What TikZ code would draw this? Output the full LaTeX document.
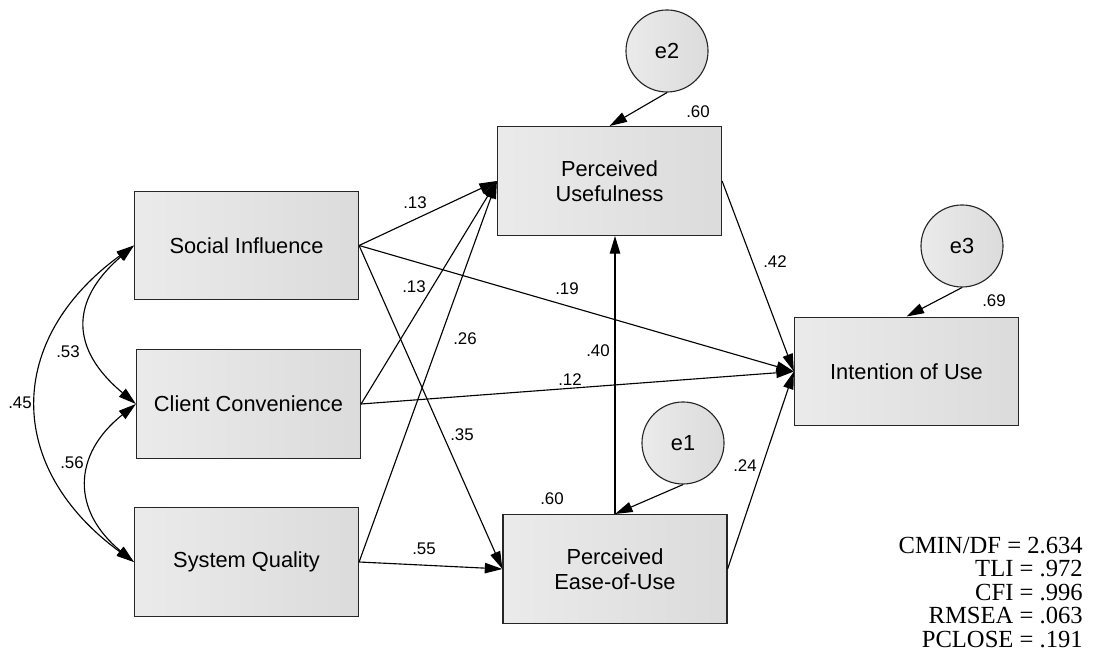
\documentclass[tikz,border=0pt]{standalone}
\usepackage{fontspec}
\setmainfont{Liberation Sans}
\newfontfamily\statfont{Liberation Serif}
\usetikzlibrary{arrows.meta}

\begin{document}
\begin{tikzpicture}[x=0.025cm,y=0.025cm,
  box/.style={draw=black!85, line width=0.8pt, left color=black!8, right color=black!14,
    minimum width=5.6cm, minimum height=2.72cm, align=center,
    font=\fontsize{15.5}{17.8}\selectfont},
  err/.style={circle, draw=black!85, line width=0.8pt, left color=black!8, right color=black!14,
    minimum size=2.05cm, inner sep=0pt, font=\fontsize{15.5}{17.8}\selectfont},
  arr/.style={line width=0.8pt, -{Triangle[length=4.4mm,width=2.6mm]}},
  cov/.style={line width=0.8pt, {Triangle[length=4.4mm,width=2.6mm]}-{Triangle[length=4.4mm,width=2.6mm]}},
  coef/.style={font=\fontsize{12}{14}\selectfont, inner sep=1pt},
  gof/.style={font=\statfont\fontsize{17.5}{19}\selectfont, anchor=base east, inner sep=0pt}]
\useasboundingbox (0,0) rectangle (1099,657);

% observed variables
\node[box] (si) at (246.5,411.5) {Social Influence};
\node[box] (cc) at (248.5,253) {Client Convenience};
\node[box] (sq) at (246.5,95) {System Quality};
\node[box] (pu) at (609.5,476) {Perceived\\Usefulness};
\node[box] (peu) at (615,88) {Perceived\\Ease-of-Use};
\node[box] (iu) at (906.5,285.5) {Intention of Use};

% error terms
\node[err] (e2) at (667,606) {e2};
\node[err] (e1) at (683,214) {e1};
\node[err] (e3) at (962,411) {e3};

% paths
\draw[arr] (e2.south) -- (pu.north);
\draw[arr] (e1.south) -- (peu.north);
\draw[arr] (e3.south) -- (iu.north);
\draw[arr] (si.east) -- (pu.west);
\draw[arr] (cc.east) -- (pu.west);
\draw[arr] (sq.east) -- (pu.west);
\draw[arr] (si.east) -- (iu.west);
\draw[arr] (cc.east) -- (iu.west);
\draw[arr] (si.east) -- (peu.west);
\draw[arr] (sq.east) -- (peu.west);
\draw[arr] (pu.east) -- (iu.west);
\draw[arr] (peu.east) -- (iu.west);
\draw[arr] (peu.north) -- (peu.north |- pu.south);

% covariances
\draw[cov] (si.west) .. controls +(-64,-55) and +(-66,55) .. (cc.west);
\draw[cov] (cc.west) .. controls +(-64,-51) and +(-62,51) .. (sq.west);
\draw[cov] (si.west) .. controls +(-129,-94) and +(-129,94) .. (sq.west);

% coefficients
\node[coef] (k-sipu) at (415,454) {.13};
\node[coef] (k-ccpu) at (414,370) {.13};
\node[coef] (k-sqpu) at (465,318) {.26};
\node[coef] (k-sipeu) at (462,222) {.35};
\node[coef] (k-sqpeu) at (424,108) {.55};
\node[coef] (k-siiu) at (567,368) {.19};
\node[coef] (k-cciu) at (570,277) {.12};
\node[coef] (k-peupu) at (598,306) {.40};
\node[coef] (k-puiu) at (775,395) {.42};
\node[coef] (k-peuiu) at (745,191) {.24};
\node[coef] (r-pu) at (698,545) {.60};
\node[coef] (r-peu) at (552,158) {.60};
\node[coef] (r-iu) at (994,356) {.69};
\node[coef] (k-sicc) at (68,305) {.53};
\node[coef] (k-ccsq) at (72,194) {.56};
\node[coef] (k-sisq) at (20,254) {.45};

% fit indices
\node[gof] (cmin) at (1083,103.5) {CMIN/DF = 2.634};
\node[gof] (tli) at (1083,80) {TLI = .972};
\node[gof] (cfi) at (1083,56.5) {CFI = .996};
\node[gof] (rmsea) at (1083,33) {RMSEA = .063};
\node[gof] (pclose) at (1083,9.5) {PCLOSE = .191};
\end{tikzpicture}
\end{document}
